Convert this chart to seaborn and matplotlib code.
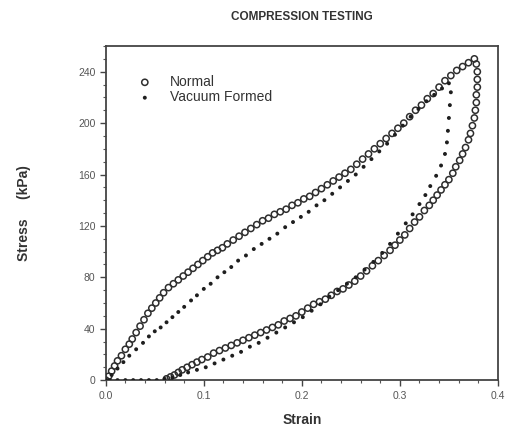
import numpy as np
import pandas as pd
import seaborn as sns
import matplotlib
matplotlib.use("Agg")
import matplotlib.pyplot as plt
from matplotlib.ticker import MultipleLocator

# Normal sample: loading branch then unloading branch (strain, kPa)
normal_strain = [
    0.000, 0.003, 0.006, 0.009, 0.012, 0.016, 0.020, 0.024, 0.027, 0.031,
    0.035, 0.039, 0.043, 0.047, 0.051, 0.055, 0.059, 0.064, 0.069, 0.074,
    0.079, 0.084, 0.089, 0.094, 0.099, 0.104, 0.109, 0.114, 0.119, 0.124,
    0.130, 0.136, 0.142, 0.148, 0.154, 0.160, 0.166, 0.172, 0.178, 0.184,
    0.190, 0.196, 0.202, 0.208, 0.214, 0.220, 0.226, 0.232, 0.238, 0.244,
    0.250, 0.256, 0.262, 0.268, 0.274, 0.280, 0.286, 0.292, 0.298, 0.304,
    0.310, 0.316, 0.322, 0.328, 0.334, 0.340, 0.346, 0.352, 0.358, 0.364,
    0.370, 0.376,
    0.378, 0.379, 0.379, 0.379, 0.378, 0.378, 0.377, 0.376, 0.374, 0.372,
    0.370, 0.367, 0.364, 0.361, 0.357, 0.354, 0.350, 0.346, 0.342, 0.338,
    0.334, 0.330, 0.325, 0.320, 0.315, 0.310, 0.305, 0.300, 0.295, 0.290,
    0.284, 0.278, 0.272, 0.266, 0.260, 0.254, 0.248, 0.242, 0.236, 0.230,
    0.224, 0.218, 0.212, 0.206, 0.200, 0.194, 0.188, 0.182, 0.176, 0.170,
    0.164, 0.158, 0.152, 0.146, 0.140, 0.134, 0.128, 0.122, 0.116, 0.110,
    0.104, 0.098, 0.093, 0.088, 0.083, 0.078, 0.074, 0.070, 0.066, 0.062,
]
normal_stress = [
    0, 3, 7, 11, 15, 19, 24, 28, 32, 37,
    42, 47, 52, 56, 60, 64, 68, 72, 75, 78,
    81, 84, 87, 90, 93, 96, 99, 101, 103, 106,
    109, 112, 115, 118, 121, 124, 126, 129, 131, 133,
    136, 138, 141, 143, 146, 149, 152, 155, 158, 161,
    164, 168, 172, 176, 180, 184, 188, 192, 196, 200,
    205, 210, 214, 219, 223, 228, 233, 237, 241, 244,
    247, 250,
    246, 240, 234, 228, 222, 216, 210, 204, 198, 192,
    187, 181, 176, 171, 166, 161, 156, 152, 148, 144,
    140, 136, 132, 127, 123, 118, 113, 109, 105, 101,
    97, 93, 89, 85, 81, 77, 74, 71, 69, 66,
    63, 61, 59, 56, 53, 50, 48, 46, 43, 41,
    39, 37, 35, 33, 31, 29, 27, 25, 23, 21,
    18, 16, 14, 12, 10, 8, 6, 4, 2.5, 1,
]

# Vacuum formed sample: loading branch then unloading branch
vacuum_strain = [
    0.000, 0.006, 0.012, 0.018, 0.024, 0.031, 0.038, 0.044, 0.050, 0.056,
    0.062, 0.068, 0.074, 0.080, 0.087, 0.093, 0.100, 0.107, 0.114, 0.121,
    0.128, 0.135, 0.143, 0.151, 0.159, 0.167, 0.175, 0.183, 0.191, 0.199,
    0.207, 0.215, 0.223, 0.231, 0.239, 0.247, 0.255, 0.263, 0.271, 0.279,
    0.287, 0.295, 0.303, 0.311, 0.319, 0.327, 0.335, 0.343, 0.350,
    0.352, 0.351, 0.350, 0.349, 0.348, 0.346, 0.342, 0.337, 0.331, 0.326,
    0.320, 0.313, 0.306, 0.298, 0.290, 0.282, 0.273, 0.264, 0.255, 0.246,
    0.237, 0.228, 0.219, 0.210, 0.201, 0.192, 0.183, 0.174, 0.165, 0.156,
    0.147, 0.138, 0.129, 0.120, 0.111, 0.102, 0.093, 0.084, 0.076, 0.068,
    0.060, 0.052, 0.044, 0.036, 0.028, 0.020, 0.012, 0.004,
]
vacuum_stress = [
    0, 4, 9, 14, 19, 24, 29, 34, 38, 41,
    45, 49, 53, 57, 62, 66, 71, 75, 80, 84,
    88, 93, 97, 102, 106, 110, 114, 119, 123, 127,
    131, 136, 140, 145, 150, 155, 160, 166, 172, 178,
    184, 191, 198, 205, 211, 217, 222, 227, 231,
    224, 214, 204, 194, 185, 176, 167, 159, 151, 144,
    137, 129, 122, 114, 106, 99, 92, 86, 80, 75,
    70, 65, 59, 54, 49, 45, 41, 37, 33, 29,
    26, 22, 19, 16, 13, 10, 8, 6, 4, 2,
    1, 0, 0, 0, 0, 0, 0, 0,
]

x_ticks = [0.0, 0.1, 0.2, 0.3, 0.4]
x_tick_labels = ["0.0", "0.1", "0.2", "0.3", "0.4"]
y_ticks = [0, 40, 80, 120, 160, 200, 240]

normal = pd.DataFrame({"strain": normal_strain, "stress": normal_stress})
vacuum = pd.DataFrame({"strain": vacuum_strain, "stress": vacuum_stress})

sns.set_style("ticks")
plt.rcParams["font.family"] = ["Liberation Sans", "DejaVu Sans"]

fig = plt.figure(figsize=(5.06, 4.30), dpi=100)
ax = fig.add_axes([0.209, 0.116, 0.775, 0.777])

sns.scatterplot(data=normal, x="strain", y="stress", ax=ax, marker="o",
                s=20, facecolors="none", edgecolor="#2e2e2e", linewidth=1.1,
                label="Normal", zorder=3)
sns.scatterplot(data=vacuum, x="strain", y="stress", ax=ax, marker="o",
                s=8, color="#1e1e1e", edgecolor="none",
                label="Vacuum Formed", zorder=4)

ax.set_xlim(0, 0.4)
ax.set_ylim(0, 260)
ax.set_xticks(x_ticks)
ax.set_xticklabels(x_tick_labels)
ax.set_yticks(y_ticks)
ax.xaxis.set_minor_locator(MultipleLocator(0.02))
ax.yaxis.set_minor_locator(MultipleLocator(10))

for sp in ax.spines.values():
    sp.set_color("#444444")
    sp.set_linewidth(1.3)
ax.tick_params(which="major", direction="out", length=4, width=1,
               color="#444444", labelsize=7.5, labelcolor="#555555")
ax.tick_params(which="minor", direction="out", length=2.5, width=0.8,
               color="#555555")

ax.set_xlabel("Strain", fontsize=10, fontweight="bold", color="#333333",
              labelpad=9)
ax.set_ylabel("Stress     (kPa)", fontsize=10, fontweight="bold",
              color="#333333", labelpad=34)
fig.text(0.597, 0.96, "COMPRESSION TESTING", ha="center", va="center",
         fontsize=8.5, fontweight="bold", color="#333333")

leg = ax.legend(loc="upper left", bbox_to_anchor=(0.05, 0.93), frameon=False,
                fontsize=10, handletextpad=0.8, labelspacing=0.1,
                borderaxespad=0)
for t in leg.get_texts():
    t.set_color("#333333")

fig.savefig("out.png", dpi=100)
